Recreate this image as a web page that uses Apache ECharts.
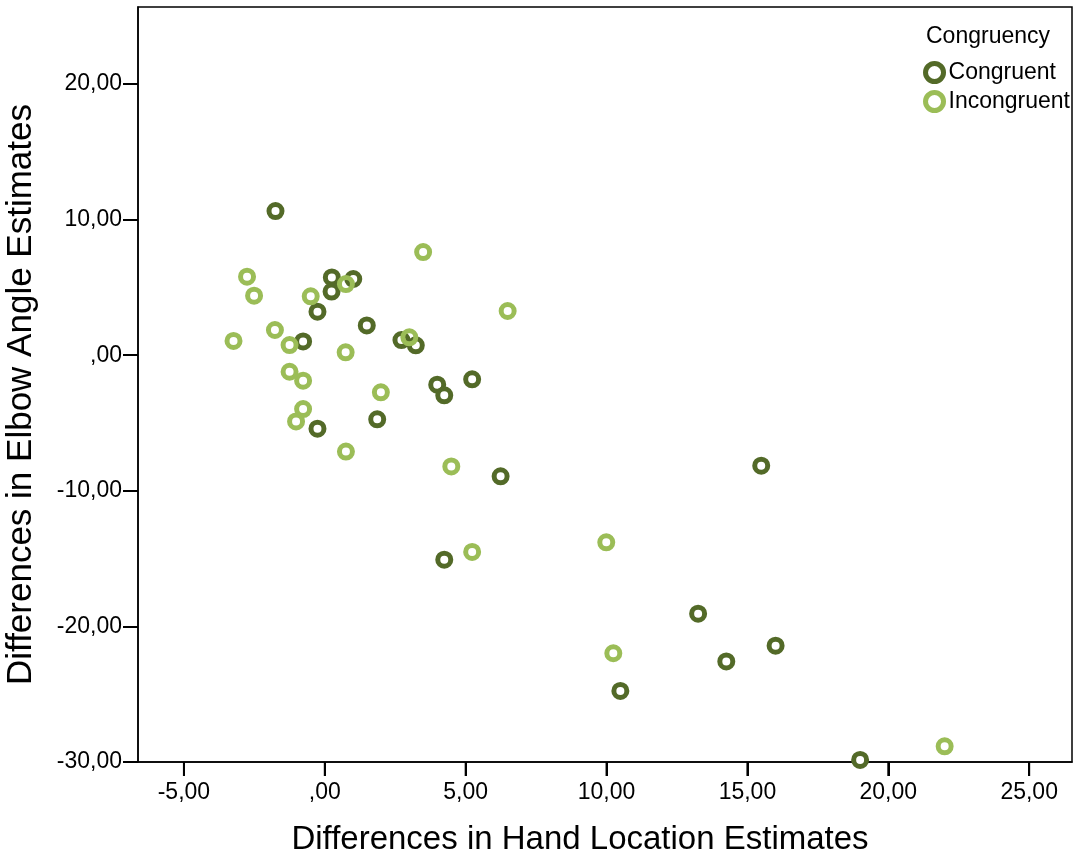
<!DOCTYPE html>
<html>
<head>
<meta charset="utf-8">
<script src="https://cdn.jsdelivr.net/npm/echarts@6/dist/echarts.min.js"></script>
<style>
  html, body { margin: 0; padding: 0; background: #fff; }
  #main { width: 1073px; height: 858px; }
</style>
</head>
<body>
<div id="main"></div>
<script>
// data
const congruentX = [-1.75, 0.25, 1.01, 0.24, -0.26, 1.49, -0.77, 2.72, 3.23, 3.99, 4.24, 5.23, -0.26, 1.86, 6.24, 4.24, 15.49, 13.25, 16.0, 14.25, 10.49, 19.0];
const congruentY = [10.63, 5.74, 5.62, 4.69, 3.21, 2.2, 1.02, 1.12, 0.73, -2.17, -2.96, -1.78, -5.42, -4.73, -8.93, -15.08, -8.15, -19.06, -21.42, -22.58, -24.76, -29.85];
const incongruentX = [3.49, -2.76, -2.51, 0.75, -0.5, -1.77, -1.25, -3.24, 3.0, 0.74, -1.25, -0.77, 1.99, -0.77, -1.02, 0.75, 4.49, 6.49, 5.23, 9.99, 10.24, 22.0];
const incongruentY = [7.61, 5.79, 4.39, 5.25, 4.34, 1.86, 0.75, 1.05, 1.32, 0.21, -1.22, -1.88, -2.74, -3.97, -4.88, -7.11, -8.2, 3.26, -14.51, -13.8, -21.98, -28.84];
const xTicks = [-5, 0, 5, 10, 15, 20, 25];
const yTicks = [-30, -20, -10, 0, 10, 20];

const darkGreen = "#536a28";
const lightGreen = "#9bbd57";
const xMin = -6.63;
const xMax = 26.52;
const yMin = -30;
const yMax = 25.68;

function fmt(v) {
  // SPSS style: comma decimal, no leading zero for 0
  let s = Math.abs(v).toFixed(2).replace(".", ",");
  if (s.startsWith("0,")) s = s.substring(1);
  return (v < 0 ? "-" : "") + s;
}

function pairs(xs, ys) {
  return xs.map((x, i) => [x, ys[i]]);
}

const myChart = echarts.init(document.getElementById("main"));
myChart.setOption({
  animation: false,
  textStyle: { fontFamily: "Liberation Sans, Arial, sans-serif", color: "#000" },
  title: {
    text: "Congruency",
    right: 18,
    top: 20,
    textStyle: { fontSize: 23, fontWeight: "normal", color: "#000" },
  },
  legend: {
    orient: "vertical",
    right: -2,
    top: 56,
    itemWidth: 18,
    itemHeight: 18,
    itemGap: 6,
    icon: "circle",
    textStyle: { fontSize: 23, color: "#000" },
    data: [
      { name: "Congruent", itemStyle: { color: "#fff", borderColor: darkGreen, borderWidth: 5 } },
      { name: "Incongruent", itemStyle: { color: "#fff", borderColor: lightGreen, borderWidth: 5 } },
    ],
  },
  grid: {
    left: 138,
    right: 1,
    top: 7,
    bottom: 96,
    outerBoundsMode: "none",
    show: true,
    borderColor: "#000",
    borderWidth: 1.5,
  },
  xAxis: {
    type: "value",
    min: xMin,
    max: xMax,
    name: "Differences in Hand Location Estimates",
    nameLocation: "middle",
    nameGap: 61,
    nameTextStyle: { fontSize: 33, color: "#000", padding: [0, 50, 0, 0] },
    axisLine: { onZero: false, lineStyle: { color: "#000", width: 1.5 } },
    axisTick: { show: true, length: 14, customValues: xTicks, lineStyle: { color: "#000", width: 2 } },
    axisLabel: { customValues: xTicks, formatter: fmt, fontSize: 23, color: "#000", margin: 19 },
    splitLine: { show: false },
  },
  yAxis: {
    type: "value",
    min: yMin,
    max: yMax,
    name: "Differences in Elbow Angle Estimates",
    nameLocation: "middle",
    nameGap: 99,
    nameTextStyle: { fontSize: 35, color: "#000", padding: [0, 20, 0, 0] },
    axisLine: { onZero: false, lineStyle: { color: "#000", width: 1.5 } },
    axisTick: { show: true, length: 15, customValues: yTicks, lineStyle: { color: "#000", width: 2 } },
    axisLabel: { customValues: yTicks, formatter: fmt, fontSize: 23, color: "#000", margin: 16 },
    splitLine: { show: false },
  },
  series: [
    {
      name: "Congruent",
      type: "scatter",
      symbol: "circle",
      symbolSize: 13,
      itemStyle: { color: "#fff", borderColor: darkGreen, borderWidth: 5, opacity: 1 },
      data: pairs(congruentX, congruentY),
    },
    {
      name: "Incongruent",
      type: "scatter",
      symbol: "circle",
      symbolSize: 13,
      itemStyle: { color: "rgba(255,255,255,0)", borderColor: lightGreen, borderWidth: 5, opacity: 1 },
      data: pairs(incongruentX, incongruentY),
    },
    {
      // x tick marks below the axis line, placed through the axis scale
      name: "xTickMarks",
      type: "scatter",
      silent: true,
      clip: false,
      symbol: "rect",
      symbolSize: [2, 14],
      symbolOffset: [0, 7],
      itemStyle: { color: "#000", opacity: 1 },
      data: xTicks.map((t) => [t, yMin]),
    },
  ],
});

window.addEventListener("resize", function () {
  myChart.resize();
});
</script>
</body>
</html>
